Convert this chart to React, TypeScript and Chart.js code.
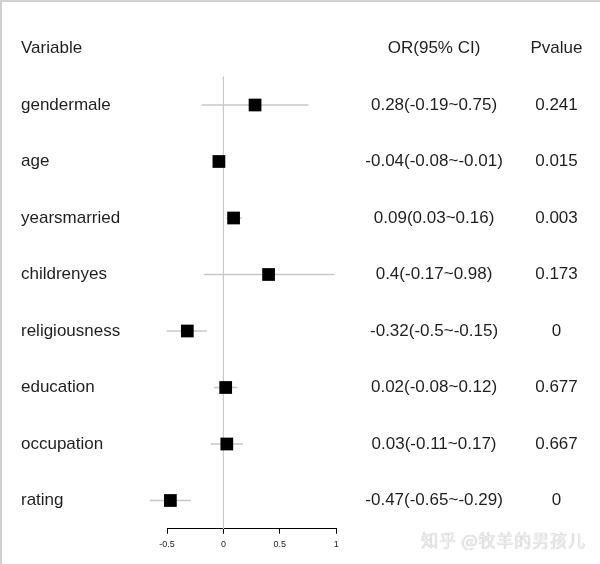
import React, { useEffect, useRef } from 'react';
import { Chart, registerables } from 'chart.js';

Chart.register(...registerables);

// ---- data ----
const variables = ['gendermale', 'age', 'yearsmarried', 'childrenyes', 'religiousness', 'education', 'occupation', 'rating'];
const orValues = [0.28, -0.04, 0.09, 0.4, -0.32, 0.02, 0.03, -0.47];
const lowerCI = [-0.19, -0.08, 0.03, -0.17, -0.5, -0.08, -0.11, -0.65];
const upperCI = [0.75, -0.01, 0.16, 0.98, -0.15, 0.12, 0.17, -0.29];
const pValues = ['0.241', '0.015', '0.003', '0.173', '0', '0.677', '0.667', '0'];
const headerLabels = ['Variable', 'OR(95% CI)', 'Pvalue'];
const xTicks = [-0.5, 0, 0.5, 1];
const refValue = 0;
const watermark = '知乎 @牧羊的男孩儿';

const FONT = '"Liberation Sans", Arial, Helvetica, sans-serif';

export default function App() {
  const ref = useRef<HTMLCanvasElement>(null);

  useEffect(() => {
    if (!ref.current) return;
    const leftLabels = [headerLabels[0], ...variables];
    const orLabels = [
      headerLabels[1],
      ...variables.map((_, i) => `${orValues[i]}(${lowerCI[i]}~${upperCI[i]})`),
    ];
    const pLabels = [headerLabels[2], ...pValues];
    const rowCount = variables.length;

    const zeroPad = (s: any) => {
      s.paddingTop = 0;
      s.paddingBottom = 0;
      s.paddingLeft = 0;
      s.paddingRight = 0;
    };
    const rowTicks = (s: any) => {
      s.ticks = leftLabels.map((_, i) => ({ value: i }));
    };
    const yAxis = (labels: string[], position: string, width: number, padding: number, crossAlign: string, weight: number) => ({
      type: 'linear',
      axis: 'y',
      position,
      weight,
      offset: false,
      beginAtZero: false,
      min: -0.5,
      max: rowCount + 0.5,
      reverse: true,
      grid: { display: false, drawTicks: false, offset: false },
      border: { display: false },
      afterBuildTicks: rowTicks,
      afterFit: (s: any) => {
        s.width = width;
        zeroPad(s);
      },
      ticks: {
        autoSkip: false,
        padding,
        crossAlign,
        color: '#1f1f1f',
        font: { family: FONT, size: 17 },
        callback: (v: any) => labels[Math.round(Number(v))] ?? '',
      },
    });

    const chart = new Chart(ref.current, {
      type: 'bar',
      data: {
        datasets: [
          {
            type: 'scatter',
            label: 'OR',
            data: variables.map((_, i) => ({ x: orValues[i], y: i + 1 })),
            xAxisID: 'x',
            yAxisID: 'y',
            pointStyle: 'rect',
            pointRadius: 9,
            pointHoverRadius: 9,
            backgroundColor: '#000000',
            borderColor: '#000000',
            borderWidth: 0,
            clip: false,
            order: 0,
          } as any,
          {
            type: 'bar',
            label: 'CI',
            indexAxis: 'y',
            data: variables.map((_, i) => ({ x: [lowerCI[i], upperCI[i]], y: i + 1 })),
            xAxisID: 'x',
            yAxisID: 'y',
            backgroundColor: '#c8c8c8',
            borderWidth: 0,
            barThickness: 1,
            clip: false,
            order: 1,
          } as any,
          {
            type: 'line',
            label: 'ref',
            data: [
              { x: refValue, y: 0.5 },
              { x: refValue, y: rowCount + 0.5 },
            ],
            xAxisID: 'x',
            yAxisID: 'y',
            borderColor: '#cccccc',
            borderWidth: 1,
            pointRadius: 0,
            clip: false,
            order: 2,
          } as any,
        ],
      },
      options: {
        responsive: false,
        animation: false,
        events: [],
        layout: { padding: { left: 21, top: 20.25, right: 0, bottom: 0 } },
        plugins: {
          legend: { display: false },
          tooltip: { enabled: false },
          title: { display: false },
        },
        scales: {
          x: {
            type: 'linear',
            axis: 'x',
            position: 'bottom',
            offset: false,
            beginAtZero: false,
            min: xTicks[0],
            max: xTicks[xTicks.length - 1],
            afterBuildTicks: (s: any) => {
              s.ticks = xTicks.map((v) => ({ value: v }));
            },
            afterFit: (s: any) => {
              s.height = 35.25;
              zeroPad(s);
            },
            grid: {
              display: true,
              offset: false,
              drawOnChartArea: false,
              drawTicks: true,
              tickLength: 5,
              tickColor: '#000000',
              tickWidth: 1,
            },
            border: { display: true, color: '#000000', width: 1 },
            ticks: {
              autoSkip: false,
              maxRotation: 0,
              minRotation: 0,
              padding: 5,
              color: '#222222',
              font: { family: FONT, size: 9 },
              callback: (v: any) => String(v),
            },
          },
          y: yAxis(leftLabels, 'left', 146, 0, 'far', 0),
          yOR: yAxis(orLabels, 'right', 180, 29, 'center', 0),
          yP: yAxis(pLabels, 'right', 83.7, 14.2, 'center', 1),
        } as any,
      },
    });
    return () => chart.destroy();
  }, []);

  return (
    <div style={{ position: 'absolute', left: 0, top: 0, width: 600, height: 564, background: '#ffffff', overflow: 'hidden' }}>
      <canvas ref={ref} width={600} height={564} style={{ position: 'absolute', left: 0, top: 0, width: 600, height: 564 }} />
      <div
        style={{
          position: 'absolute',
          left: 0,
          top: 0,
          width: 600,
          height: 564,
          boxSizing: 'border-box',
          borderTop: '2px solid #d0d0d0',
          borderLeft: '2px solid #d0d0d0',
          pointerEvents: 'none',
        }}
      />
      <div
        style={{
          position: 'absolute',
          left: 421,
          top: 529,
          fontFamily: '"Noto Sans CJK SC", sans-serif',
          fontSize: 17,
          lineHeight: '22px',
          letterSpacing: '0.9px',
          color: '#eeeeee',
          textShadow: '0 0 1px #9c9c9c',
          whiteSpace: 'pre',
        }}
      >
        {watermark}
      </div>
    </div>
  );
}
